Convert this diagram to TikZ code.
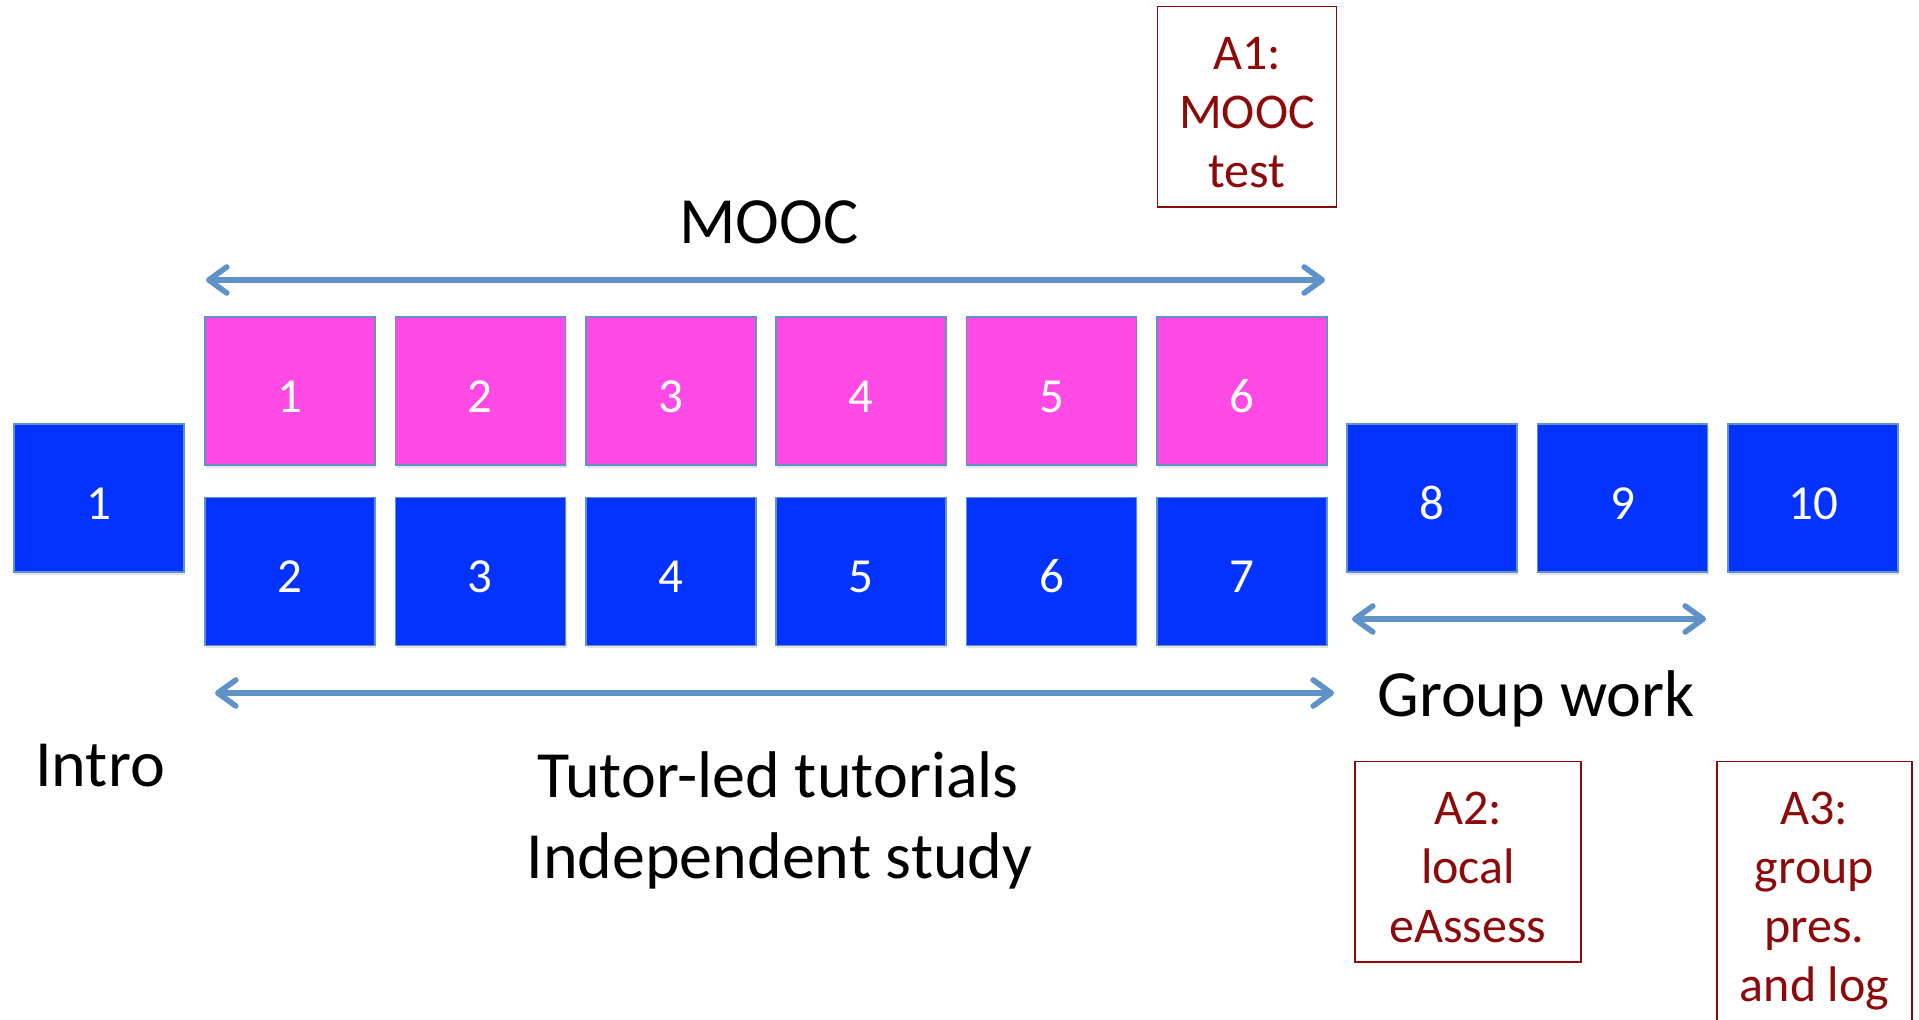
\documentclass[tikz,border=0pt]{standalone}
\usepackage{fontspec}
\setmainfont{Carlito}
\usetikzlibrary{arrows.meta,shadows}

\definecolor{weekblue}{RGB}{4,51,255}
\definecolor{moocpink}{RGB}{255,74,230}
\definecolor{edgeblue}{RGB}{95,147,200}
\definecolor{assessred}{RGB}{140,10,10}

% taller first line, pushes the text down in the assessment boxes
\newcommand{\firstline}{\rule{0pt}{22pt}}

\tikzset{
  week/.style={draw=edgeblue, line width=0.75pt, minimum width=85pt, minimum height=74pt, inner sep=0pt,
    text=white, text height=21.5pt, text depth=0pt, font=\fontsize{24.5}{29}\selectfont,
    drop shadow={shadow xshift=0.6pt, shadow yshift=-1.4pt, opacity=0.22}},
  tutbox/.style={week, fill=weekblue},
  moocbox/.style={week, fill=moocpink},
  assess/.style={draw=assessred, line width=0.75pt, text=assessred, align=center, anchor=north,
    inner xsep=4pt, inner ysep=9.5pt, font=\fontsize{25}{29.5}\selectfont},
  spanarrow/.style={draw=edgeblue, line width=2.8pt,
    {Straight Barb[length=9pt,width=13pt,round]}-{Straight Barb[length=9pt,width=13pt,round]}},
  phase/.style={font=\fontsize{33}{41}\selectfont, anchor=base}
}

\begin{document}
\begin{tikzpicture}[x=0.5pt, y=-0.5pt]
  \useasboundingbox (0,0) rectangle (1919,1020);
  \clip (0,0) rectangle (1919,1020);

  % intro week
  \node[tutbox] (w1) at (99,498) {1};

  % MOOC weeks
  \node[moocbox] (m1) at (290,391) {1};
  \node[moocbox] (m2) at (480.4,391) {2};
  \node[moocbox] (m3) at (670.8,391) {3};
  \node[moocbox] (m4) at (861.2,391) {4};
  \node[moocbox] (m5) at (1051.6,391) {5};
  \node[moocbox] (m6) at (1242,391) {6};

  % tutorial weeks
  \node[tutbox] (w2) at (290,571.5) {2};
  \node[tutbox] (w3) at (480.4,571.5) {3};
  \node[tutbox] (w4) at (670.8,571.5) {4};
  \node[tutbox] (w5) at (861.2,571.5) {5};
  \node[tutbox] (w6) at (1051.6,571.5) {6};
  \node[tutbox] (w7) at (1242,571.5) {7};

  % group work weeks
  \node[tutbox] (w8) at (1432,498) {8};
  \node[tutbox] (w9) at (1622.5,498) {9};
  \node[tutbox] (w10) at (1813,498) {10};

  % spans
  \coordinate (moocL) at (206,280);
  \coordinate (moocR) at (1325,280);
  \coordinate (tutL) at (215,693);
  \coordinate (tutR) at (1334,693);
  \coordinate (grpL) at (1352,619);
  \coordinate (grpR) at (1706,619);
  \draw[spanarrow] (moocL) -- (moocR);
  \draw[spanarrow] (tutL) -- (tutR);
  \draw[spanarrow] (grpL) -- (grpR);

  % phase labels
  \node[phase] (mooc) at (769,243.5) {MOOC};
  \node[phase] (intro) at (100,787) {Intro};
  \node[phase] (group) at (1536,717) {Group work};
  \node[phase] (tutorled) at (778,798) {Tutor-led tutorials};
  \node[phase] (indep) at (779.5,879) {Independent study};

  % assessments
  \node[assess, minimum width=89.5pt] (a1) at (1247,6) {\firstline A1:\\MOOC\\test};
  \node[assess, minimum width=113pt] (a2) at (1468,761) {\firstline A2:\\local\\eAssess};
  \node[assess, minimum width=97.5pt] (a3) at (1814.5,761) {\firstline A3:\\group\\pres.\\and log};
\end{tikzpicture}
\end{document}
